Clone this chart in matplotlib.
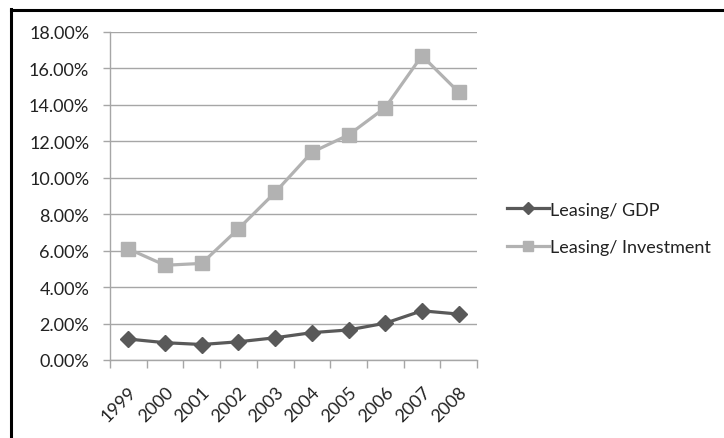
import numpy as np
import matplotlib.pyplot as plt
from matplotlib.lines import Line2D
from matplotlib.ticker import FuncFormatter, MultipleLocator

years = ["1999", "2000", "2001", "2002", "2003", "2004", "2005", "2006", "2007", "2008"]
leasing_gdp = [1.15, 0.95, 0.85, 1.0, 1.22, 1.5, 1.65, 2.02, 2.7, 2.52]
leasing_investment = [6.1, 5.2, 5.3, 7.2, 9.2, 11.4, 12.35, 13.85, 16.7, 14.7]

W, H = 724, 439
plt.rcParams['font.family'] = ['Lato', 'DejaVu Sans']
fig = plt.figure(figsize=(W / 100, H / 100), dpi=100)
ax = fig.add_axes([110 / W, 1 - 361 / H, (477 - 110) / W, (361 - 33) / H])

x = np.arange(len(years))
ax.plot(x, leasing_gdp, color='#595959', lw=2.3, marker='D', markersize=8,
        label='Leasing/ GDP', zorder=4)
ax.plot(x, leasing_investment, color='#b2b2b2', lw=2.3, marker='s', markersize=10.5,
        label='Leasing/ Investment', zorder=3)

ax.set_xlim(-0.5, len(years) - 0.5)
ax.set_ylim(0, 18)
ax.yaxis.set_major_locator(MultipleLocator(2))
ax.yaxis.set_major_formatter(FuncFormatter(lambda v, p: f"{v:.2f}%"))
ax.grid(axis='y', color='#a6a6a6', lw=1)
ax.set_axisbelow(True)

# category labels at centers, tick marks at boundaries
ax.set_xticks(x)
ax.set_xticklabels(years, rotation=45, ha='right', rotation_mode='anchor')
ax.set_xticks(np.arange(-0.5, len(years)), minor=True)
ax.tick_params(axis='x', which='major', length=0, pad=17, labelsize=13, labelcolor='#222222')
ax.tick_params(axis='x', which='minor', length=6, color='#a6a6a6', width=1)
ax.tick_params(axis='y', length=5, color='#a6a6a6', width=1, pad=10, labelsize=13,
               labelcolor='#222222')

for s in ['top', 'right']:
    ax.spines[s].set_visible(False)
for s in ['left', 'bottom']:
    ax.spines[s].set_color('#a6a6a6')
    ax.spines[s].set_linewidth(1)

fig.legend(loc='center left', bbox_to_anchor=(507 / W, 1 - 229.5 / H), frameon=False,
           fontsize=13, handlelength=2.3, handletextpad=0.1, borderpad=0,
           borderaxespad=0, labelspacing=1.2, labelcolor='#222222', markerscale=0.75)

# black frame along top and left edges
fig.add_artist(Line2D([10.7 / W, 1], [1 - 10.7 / H, 1 - 10.7 / H], color='black',
                      lw=2.2, transform=fig.transFigure))
fig.add_artist(Line2D([11.3 / W, 11.3 / W], [0, 1 - 9.6 / H], color='black',
                      lw=2.2, transform=fig.transFigure))

fig.savefig("out.png", dpi=100)
